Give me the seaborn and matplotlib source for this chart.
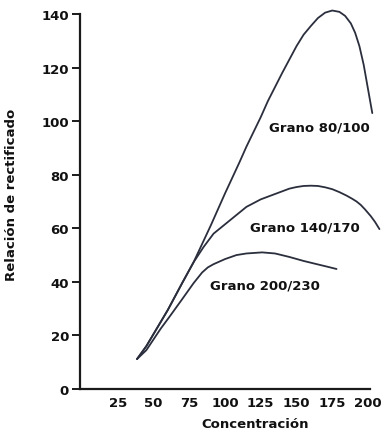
import matplotlib
matplotlib.use("Agg")
import matplotlib.pyplot as plt
import seaborn as sns
import pandas as pd

# ---- data ----
conc_80 = [38.5, 45, 50, 55, 60, 65, 70, 78, 90, 100, 110, 115, 120, 125, 130, 140, 150, 155, 160, 165, 170, 175, 180, 184, 188, 191, 194, 197, 200, 203]
rel_80 = [11.2, 16, 20.5, 25, 29.5, 34.5, 39.5, 47.3, 61, 73, 84.5, 90.5, 96, 101.5, 107.5, 118, 128, 132.3, 135.5, 138.5, 140.5, 141.3, 140.8, 139.3, 136.5, 133, 128, 121, 112, 103]

conc_140 = [38.5, 45, 50, 55, 60, 65, 70, 78, 85, 92, 103.5, 115, 125, 136, 145, 150, 155, 160, 165, 170, 175, 180, 185, 189, 192, 195, 198, 202, 205, 208]
rel_140 = [11.2, 16, 20.5, 25, 29.5, 34.5, 39.5, 47.3, 53, 58, 63, 68, 70.8, 73, 74.8, 75.4, 75.8, 75.9, 75.8, 75.3, 74.6, 73.5, 72.2, 71, 70, 68.7, 67, 64.5, 62.3, 59.7]

conc_200 = [38.5, 45, 50, 55, 61.5, 70, 78, 84, 88, 92, 100, 108, 115, 126, 135, 145, 155, 165, 172, 178]
rel_200 = [11.2, 14.5, 18.5, 22.5, 27.2, 33.5, 39.5, 43.5, 45.4, 46.6, 48.5, 50, 50.6, 51, 50.6, 49.3, 47.8, 46.5, 45.6, 44.8]

series_names = ["Grano 80/100", "Grano 140/170", "Grano 200/230"]
label_x = [131, 117.5, 89.5]
label_y = [97.8, 60.4, 38.8]

y_ticks = [0, 20, 40, 60, 80, 100, 120, 140]
x_ticks = [25, 50, 75, 100, 125, 150, 175, 200]

df = pd.concat([
    pd.DataFrame({"Concentración": conc_80, "Relación": rel_80, "serie": series_names[0]}),
    pd.DataFrame({"Concentración": conc_140, "Relación": rel_140, "serie": series_names[1]}),
    pd.DataFrame({"Concentración": conc_200, "Relación": rel_200, "serie": series_names[2]}),
])

sns.set_theme(style="white")
plt.rcParams["font.family"] = ["DejaVu Sans"]
plt.rcParams["font.weight"] = "bold"

fig = plt.figure(figsize=(3.81, 4.35), dpi=100)
ax = fig.add_axes([80 / 381, 45 / 435, 290 / 381, 375 / 435])

line_color = "#2b2f3d"
for name in series_names:
    sub = df[df["serie"] == name]
    sns.lineplot(data=sub, x="Concentración", y="Relación", ax=ax, color=line_color,
                 linewidth=1.3, sort=True, estimator=None, clip_on=False)

for name, lx, ly in zip(series_names, label_x, label_y):
    ax.text(lx, ly, name, ha="left", va="center", fontsize=9.5, fontweight="bold", color="#111111")

ax.set_xlim(-1.4, 201.4)
ax.set_ylim(0, 140)
ax.set_xticks(x_ticks)
ax.set_yticks(y_ticks)
ax.set_xticklabels([str(t) for t in x_ticks], fontsize=9.5, fontweight="bold", color="#111111")
ax.set_yticklabels([str(t) for t in y_ticks], fontsize=9.5, fontweight="bold", color="#111111")

for side in ["top", "right"]:
    ax.spines[side].set_visible(False)
for side in ["left", "bottom"]:
    ax.spines[side].set_visible(True)
    ax.spines[side].set_color("#1a1a1a")
    ax.spines[side].set_linewidth(1.6)

ax.tick_params(axis="y", which="major", left=True, length=6, width=1.4, color="#1a1a1a", pad=2)
ax.tick_params(axis="x", which="major", bottom=False, length=0, pad=5)

ax.set_xlabel("Concentración", fontsize=9.5, fontweight="bold", color="#111111")
ax.set_ylabel("Relación de rectificado", fontsize=9.5, fontweight="bold", color="#111111")
ax.xaxis.set_label_coords(0.603, -0.075)
ax.yaxis.set_label_coords(-0.214, 0.52)
ax.grid(False)

fig.savefig("out.png", dpi=100)
